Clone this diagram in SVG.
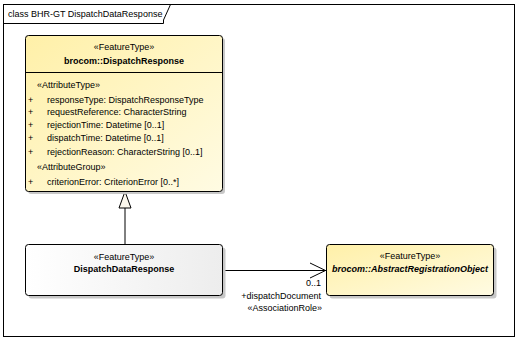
<svg xmlns="http://www.w3.org/2000/svg" width="518" height="340" viewBox="0 0 518 340">
<style>
text{font-family:"Liberation Sans",Arial,sans-serif;font-size:9px;fill:#000}
.c{text-anchor:middle}
.b{font-weight:bold}
.bi{font-weight:bold;font-style:italic}
.r{text-anchor:end}
.box{stroke:#000;stroke-width:1}
.sh{fill:#c8c8c8}
.ln{stroke:#000;stroke-width:1;fill:none}
</style>
<defs>
<linearGradient id="yel" x1="0" y1="0" x2="1" y2="1">
<stop offset="0" stop-color="#FFF0A8"/>
<stop offset="1" stop-color="#FFFBE3"/>
</linearGradient>
<linearGradient id="wht" x1="0" y1="0" x2="1" y2="0">
<stop offset="0" stop-color="#FFFFFF"/>
<stop offset="1" stop-color="#EDEDED"/>
</linearGradient>
</defs>
<rect width="518" height="340" fill="#fff"/>
<g id="frame">
<rect x="3.5" y="4.5" width="511" height="332" fill="none" stroke="#000"/>
<polyline points="3.5,23.5 163.5,23.5 163.5,20 170.5,4.5" class="ln"/>
<text x="8" y="17">class BHR-GT DispatchDataResponse</text>
</g>
<g id="connectors">
<line x1="125" y1="208" x2="125" y2="244.5" class="ln"/>
<polygon points="125,191.5 119,208 131,208" fill="#FBF7EC" stroke="#000"/>
<line x1="223" y1="270.5" x2="326" y2="270.5" class="ln"/>
<polyline points="310,263 325.5,270.5 310,278" class="ln"/>
<text class="r" x="321" y="286">0..1</text>
<text class="r" x="321" y="299">+dispatchDocument</text>
<text class="r" x="322" y="311">«AssociationRole»</text>
</g>
<g id="node-DispatchResponse">
<rect x="28" y="38" width="197" height="156" rx="3" class="sh"/>
<rect x="25.5" y="35.5" width="197" height="156" rx="3" fill="url(#yel)" class="box"/>
<line x1="25.5" y1="72.5" x2="222.5" y2="72.5" class="ln"/>
<text class="c" x="124" y="50">«FeatureType»</text>
<text class="c b" x="124" y="64">brocom::DispatchResponse</text>
<text x="37" y="88">«AttributeType»</text>
<text x="28" y="103">+</text><text x="47" y="103">responseType: DispatchResponseType</text>
<text x="28" y="115">+</text><text x="47" y="115">requestReference: CharacterString</text>
<text x="28" y="128">+</text><text x="47" y="128">rejectionTime: Datetime [0..1]</text>
<text x="28" y="141">+</text><text x="47" y="141">dispatchTime: Datetime [0..1]</text>
<text x="28" y="155">+</text><text x="47" y="155">rejectionReason: CharacterString [0..1]</text>
<text x="37" y="170">«AttributeGroup»</text>
<text x="28" y="185">+</text><text x="47" y="185">criterionError: CriterionError [0..*]</text>
</g>
<g id="node-DispatchDataResponse">
<rect x="28.5" y="247.5" width="197" height="51" rx="3" class="sh"/>
<rect x="25.5" y="244.5" width="197" height="51" rx="3" fill="url(#wht)" class="box"/>
<text class="c" x="124" y="260">«FeatureType»</text>
<text class="c b" x="124" y="272">DispatchDataResponse</text>
</g>
<g id="node-AbstractRegistrationObject">
<rect x="329.5" y="247.5" width="167" height="51" rx="3" class="sh"/>
<rect x="326.5" y="244.5" width="167" height="51" rx="3" fill="url(#yel)" class="box"/>
<text class="c" x="410" y="259">«FeatureType»</text>
<text class="c bi" x="410" y="272">brocom::AbstractRegistrationObject</text>
</g>
</svg>
